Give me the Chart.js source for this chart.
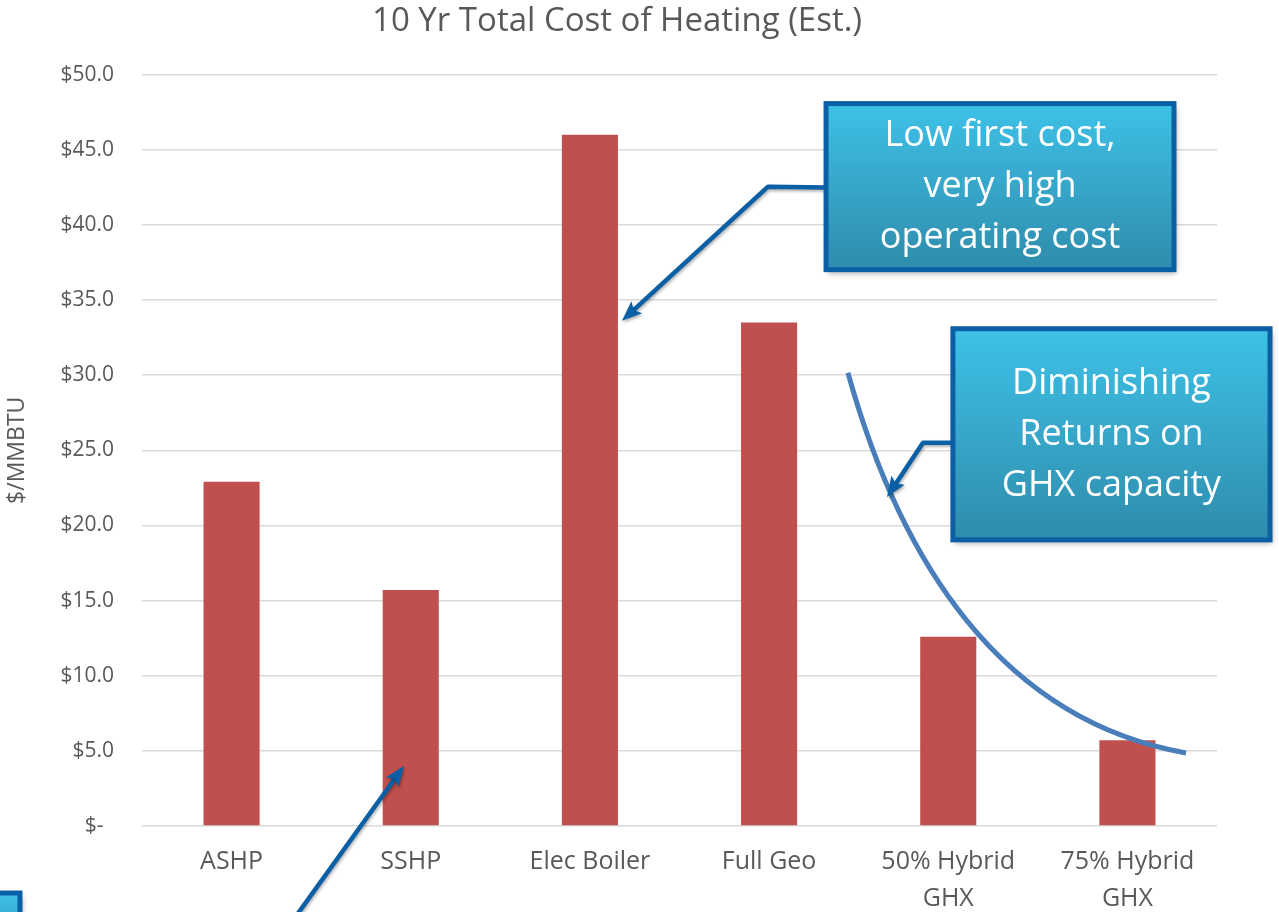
<!DOCTYPE html>
<html>
<head>
<meta charset="utf-8">
<script src="https://cdn.jsdelivr.net/npm/chart.js@4.4.1/dist/chart.umd.min.js"></script>
<style>
  html, body { margin: 0; padding: 0; background: #ffffff; }
  #wrap { width: 1279px; height: 912px; position: relative; }
</style>
</head>
<body>
<div id="wrap"><canvas id="c" width="1279" height="912"></canvas></div>
<script>
// ---- data ----
const categories = ['ASHP', 'SSHP', 'Elec Boiler', 'Full Geo', ['50% Hybrid', 'GHX'], ['75% Hybrid', 'GHX']];
const costValues = [22.9, 15.7, 46.0, 33.5, 12.6, 5.7];
const yTicks = [0, 5, 10, 15, 20, 25, 30, 35, 40, 45, 50];
const chartTitle = '10 Yr Total Cost of Heating (Est.)';
const yAxisTitle = '$/MMBTU';
const callout1Lines = ['Low first cost,', 'very high', 'operating cost'];
const callout2Lines = ['Diminishing', 'Returns on', 'GHX capacity'];

const FONT = '"Open Sans", Lato, sans-serif';
const TXT = '#595959';

// annotation anchors in data space (x = category index, y = value)
const ann = {
  box1: { x0: 3.318, x1: 5.260, y0: 48.07, y1: 37.02 },
  conn1: [[3.318, 42.48], [2.994, 42.54], [2.179, 33.62]],
  box2: { x0: 4.026, x1: 5.796, y0: 33.09, y1: 19.04 },
  conn2: [[4.026, 25.50], [3.859, 25.50], [3.658, 21.90]],
  curve: [[3.440, 30.16], [3.731, 17.71], [4.289, 7.06], [5.327, 4.86]],
  box3: { x0: -2.0, x1: -1.181, y0: -4.46, y1: -9.0 },
  conn3: [[0.360, -5.99], [0.962, 3.99]]
};

function drawArrowHead(ctx, from, to, len, wid, color) {
  const ang = Math.atan2(to[1] - from[1], to[0] - from[0]);
  ctx.save();
  ctx.translate(to[0], to[1]);
  ctx.rotate(ang);
  ctx.fillStyle = color;
  ctx.beginPath();
  ctx.moveTo(0, 0);
  ctx.lineTo(-len, -wid / 2);
  ctx.lineTo(-len * 0.8, 0);
  ctx.lineTo(-len, wid / 2);
  ctx.closePath();
  ctx.fill();
  ctx.restore();
}

function drawBox(ctx, X, Y, b, lines) {
  const l = X(b.x0), r = X(b.x1), t = Y(b.y0), bt = Y(b.y1);
  ctx.save();
  ctx.shadowColor = 'rgba(0,0,0,0.35)';
  ctx.shadowBlur = 6;
  ctx.shadowOffsetX = 2;
  ctx.shadowOffsetY = 3;
  const g = ctx.createLinearGradient(0, t, 0, bt);
  g.addColorStop(0, '#3EC1E8');
  g.addColorStop(1, '#2F8CAB');
  ctx.fillStyle = g;
  ctx.fillRect(l, t, r - l, bt - t);
  ctx.restore();
  ctx.save();
  ctx.strokeStyle = '#0B5FA5';
  ctx.lineWidth = 5;
  ctx.strokeRect(l, t, r - l, bt - t);
  if (lines) {
    ctx.fillStyle = '#ffffff';
    ctx.font = '36px ' + FONT;
    ctx.textAlign = 'center';
    ctx.textBaseline = 'middle';
    const cx = (l + r) / 2, cy = (t + bt) / 2;
    const lh = 51;
    lines.forEach((s, i) => ctx.fillText(s, cx, cy + (i - (lines.length - 1) / 2) * lh));
  }
  ctx.restore();
}

function drawConnector(ctx, pts, color) {
  ctx.save();
  ctx.shadowColor = 'rgba(0,0,0,0.3)';
  ctx.shadowBlur = 3;
  ctx.shadowOffsetX = 1;
  ctx.shadowOffsetY = 2;
  ctx.strokeStyle = color;
  ctx.lineWidth = 4.5;
  ctx.lineJoin = 'round';
  const n = pts.length;
  const last = pts[n - 1], prev = pts[n - 2];
  const ang = Math.atan2(last[1] - prev[1], last[0] - prev[0]);
  const endX = last[0] - Math.cos(ang) * 12, endY = last[1] - Math.sin(ang) * 12;
  ctx.beginPath();
  ctx.moveTo(pts[0][0], pts[0][1]);
  for (let i = 1; i < n - 1; i++) ctx.lineTo(pts[i][0], pts[i][1]);
  ctx.lineTo(endX, endY);
  ctx.stroke();
  drawArrowHead(ctx, prev, last, 20, 16, color);
  ctx.restore();
}

const annotationPlugin = {
  id: 'annotations',
  afterDatasetsDraw(chart) {
    const ctx = chart.ctx;
    const xs = chart.scales.x, ys = chart.scales.y;
    const X = v => xs.getPixelForValue(v);
    const Y = v => ys.getPixelForValue(v);
    const P = p => [X(p[0]), Y(p[1])];

    // diminishing-returns curve
    const c = ann.curve.map(P);
    ctx.save();
    ctx.strokeStyle = '#4A7EBB';
    ctx.lineWidth = 5;
    ctx.beginPath();
    ctx.moveTo(c[0][0], c[0][1]);
    ctx.bezierCurveTo(c[1][0], c[1][1], c[2][0], c[2][1], c[3][0], c[3][1]);
    ctx.stroke();
    ctx.restore();

    drawConnector(ctx, ann.conn1.map(P), '#0B5FA5');
    drawBox(ctx, X, Y, ann.box1, callout1Lines);
    drawConnector(ctx, ann.conn2.map(P), '#0B5FA5');
    drawBox(ctx, X, Y, ann.box2, callout2Lines);
    drawBox(ctx, X, Y, ann.box3, null);
    drawConnector(ctx, ann.conn3.map(P), '#0B5FA5');
  }
};

new Chart(document.getElementById('c'), {
  type: 'bar',
  data: {
    labels: categories,
    datasets: [{
      data: costValues,
      backgroundColor: '#C0504D',
      borderWidth: 0,
      categoryPercentage: 1.0,
      barPercentage: 0.313
    }]
  },
  options: {
    responsive: false,
    animation: false,
    devicePixelRatio: 1,
    layout: { padding: { left: 0, right: 62, top: 0, bottom: 0 } },
    plugins: {
      legend: { display: false },
      tooltip: { enabled: false },
      title: {
        display: true,
        text: '  ' + chartTitle,
        color: TXT,
        font: { family: FONT, size: 33, weight: 'normal', lineHeight: 1.2 },
        padding: { top: 2, bottom: 33 }
      }
    },
    scales: {
      x: {
        grid: { display: false, drawTicks: false },
        border: { display: false },
        ticks: {
          color: TXT,
          font: { family: FONT, size: 25, lineHeight: 1.5 },
          padding: 17,
          maxRotation: 0,
          autoSkip: false
        },
        afterFit(scale) { scale.height = 86; }
      },
      y: {
        min: 0,
        max: 50,
        afterBuildTicks(scale) { scale.ticks = yTicks.map(v => ({ value: v })); },
        grid: { color: '#D9D9D9', lineWidth: 1.5, drawTicks: false },
        border: { display: false },
        ticks: {
          color: TXT,
          font: { family: FONT, size: 21 },
          padding: 28,
          callback: v => v === 0 ? '$-\u2002' : '$' + Number(v).toFixed(1)
        },
        title: {
          display: true,
          text: yAxisTitle,
          color: TXT,
          font: { family: FONT, size: 23 },
          padding: { top: 4, bottom: 0 }
        },
        afterFit(scale) { scale.width = 142; }
      }
    }
  },
  plugins: [annotationPlugin]
});
</script>
</body>
</html>
